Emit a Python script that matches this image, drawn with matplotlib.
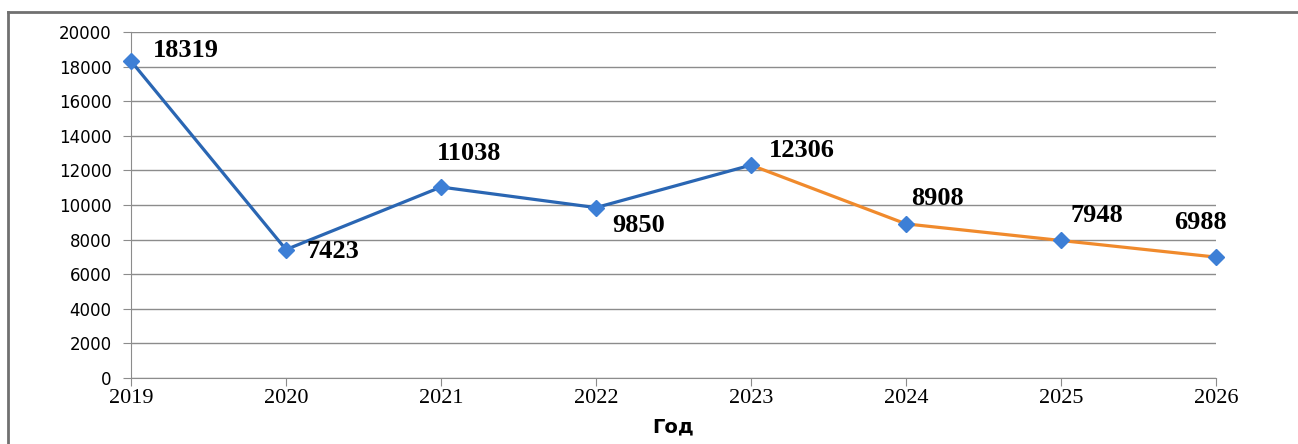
import matplotlib
matplotlib.use("Agg")
import matplotlib.pyplot as plt
from matplotlib.lines import Line2D

# data
years = [2019, 2020, 2021, 2022, 2023, 2024, 2025, 2026]
values = [18319, 7423, 11038, 9850, 12306, 8908, 7948, 6988]
actual_end = 2023  # blue up to here, orange afterwards
yticks = list(range(0, 20001, 2000))

# label offsets in pixels (dx, dy, ha)
label_offsets = [
    (22, 11, "left"),
    (20, -2, "left"),
    (28, 34, "center"),
    (16, -18, "left"),
    (18, 15, "left"),
    (31, 25, "center"),
    (36, 25, "center"),
    (-16, 35, "center"),
]

BLUE = "#2A66B3"
MARKER = "#3D7FD6"
ORANGE = "#F08A2C"
GRID = "#8C8C8C"

fig = plt.figure(figsize=(12.98, 4.44), dpi=100)
ax = fig.add_axes([131 / 1298, 1 - 378 / 444, (1216 - 131) / 1298, (378 - 32) / 444])

i_end = years.index(actual_end)
ax.plot(years[:i_end + 1], values[:i_end + 1], color=BLUE, lw=2.3, zorder=3)
ax.plot(years[i_end:], values[i_end:], color=ORANGE, lw=2.3, zorder=3)
ax.plot(years, values, ls="none", marker="D", ms=8.5, color=MARKER,
        markeredgecolor=MARKER, zorder=4, clip_on=False)

for x, y, (dx, dy, ha) in zip(years, values, label_offsets):
    ax.annotate(str(y), (x, y), xytext=(dx, dy), textcoords="offset pixels",
                ha=ha, va="center", fontsize=19, fontweight="bold",
                family="Liberation Serif", color="black")

ax.set_xlim(years[0], years[-1])
ax.set_ylim(0, 20000)
ax.set_xticks(years)
ax.set_yticks(yticks)
ax.set_xticklabels([str(y) for y in years], family="Liberation Serif", fontsize=16)
ax.set_yticklabels([str(t) for t in yticks], fontsize=12)
ax.grid(axis="y", color=GRID, lw=1)
ax.set_axisbelow(True)
for s in ("top", "right"):
    ax.spines[s].set_visible(False)
for s in ("left", "bottom"):
    ax.spines[s].set_color(GRID)
ax.tick_params(axis="both", color=GRID, length=6, direction="out")
ax.tick_params(axis="x", pad=2)
ax.tick_params(axis="y", pad=8)

ax.set_xlabel("Год", fontsize=14, fontweight="bold", labelpad=7)

# outer frame of the chart area
frame = dict(color="#707070", lw=2, transform=fig.transFigure)
fig.add_artist(Line2D([8 / 1298, 1], [1 - 12 / 444] * 2, **frame))
fig.add_artist(Line2D([8 / 1298] * 2, [0, 1 - 12 / 444], **frame))

fig.savefig("out.png", dpi=100)
